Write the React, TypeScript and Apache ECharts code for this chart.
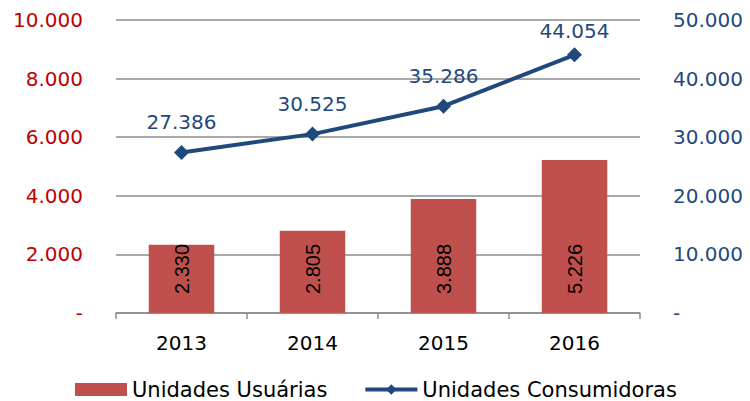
import React, { useEffect, useRef } from "react";
import * as echarts from "echarts";

const categories = ["2013", "2014", "2015", "2016"];
const usuarias = [2330, 2805, 3888, 5226];
const consumidoras = [27386, 30525, 35286, 44054];
const leftTicks = { min: 0, max: 10000, interval: 2000 };
const rightTicks = { min: 0, max: 50000, interval: 10000 };

const FONT = "DejaVu Sans";
const fmt = (v: number) =>
  v === 0 ? "-" : String(Math.round(v)).replace(/\B(?=(\d{3})+(?!\d))/g, ".");

export default function App() {
  const ref = useRef<HTMLDivElement>(null);
  useEffect(() => {
    if (!ref.current) return;
    const chart = echarts.init(ref.current, undefined, { renderer: "svg" });
    chart.setOption({
      animation: false,
      textStyle: { fontFamily: FONT },
      grid: { left: 116, right: 110, top: 20, bottom: 88 },
      legend: {
        left: 75,
        top: 379,
        padding: 0,
        itemGap: 36,
        itemWidth: 52,
        itemHeight: 13,
        textStyle: { fontFamily: FONT, fontSize: 21, color: "#000" },
        data: [
          { name: "Unidades Usuárias", icon: "rect" },
          { name: "Unidades Consumidoras", lineStyle: { width: 4 } },
        ],
      },
      xAxis: {
        type: "category",
        data: categories,
        axisLine: { lineStyle: { color: "#8c8c8c", width: 1.5 } },
        axisTick: { show: true, length: 6, lineStyle: { color: "#8c8c8c", width: 1.5 } },
        axisLabel: { color: "#000", fontSize: 20, fontFamily: FONT, margin: 20 },
      },
      yAxis: [
        {
          type: "value",
          ...leftTicks,
          axisLine: { show: false },
          axisTick: { show: false },
          splitLine: { lineStyle: { color: "#8c8c8c", width: 1.5 } },
          axisLabel: {
            color: "#C00000",
            fontSize: 20,
            fontFamily: FONT,
            margin: 33,
            formatter: fmt,
          },
        },
        {
          type: "value",
          ...rightTicks,
          position: "right",
          axisLine: { show: false },
          axisTick: { show: false },
          splitLine: { show: false },
          axisLabel: {
            color: "#1F497D",
            fontSize: 20,
            fontFamily: FONT,
            margin: 33,
            formatter: fmt,
          },
        },
      ],
      series: [
        {
          name: "Unidades Usuárias",
          type: "bar",
          yAxisIndex: 0,
          data: usuarias,
          barWidth: "50%",
          itemStyle: { color: "#C0504D" },
          label: {
            show: true,
            position: "insideBottom",
            rotate: 90,
            align: "left",
            verticalAlign: "middle",
            distance: 19,
            color: "#000",
            fontFamily: "Liberation Sans",
            fontSize: 20,
            formatter: (p: any) => fmt(p.value),
          },
        },
        {
          name: "Unidades Consumidoras",
          type: "line",
          yAxisIndex: 1,
          data: consumidoras.map((v, i) =>
            i === consumidoras.length - 1 ? { value: v, label: { distance: 6 } } : v
          ),
          symbol: "diamond",
          symbolSize: 15,
          lineStyle: { color: "#1F497D", width: 4 },
          itemStyle: { color: "#1F497D" },
          label: {
            show: true,
            position: "top",
            distance: 13,
            color: "#1F497D",
            fontFamily: FONT,
            fontSize: 20,
            formatter: (p: any) => fmt(p.value),
          },
        },
      ],
    });
    return () => chart.dispose();
  }, []);
  return <div ref={ref} style={{ width: 750, height: 401, position: "absolute", left: 0, top: 0 }} />;
}
